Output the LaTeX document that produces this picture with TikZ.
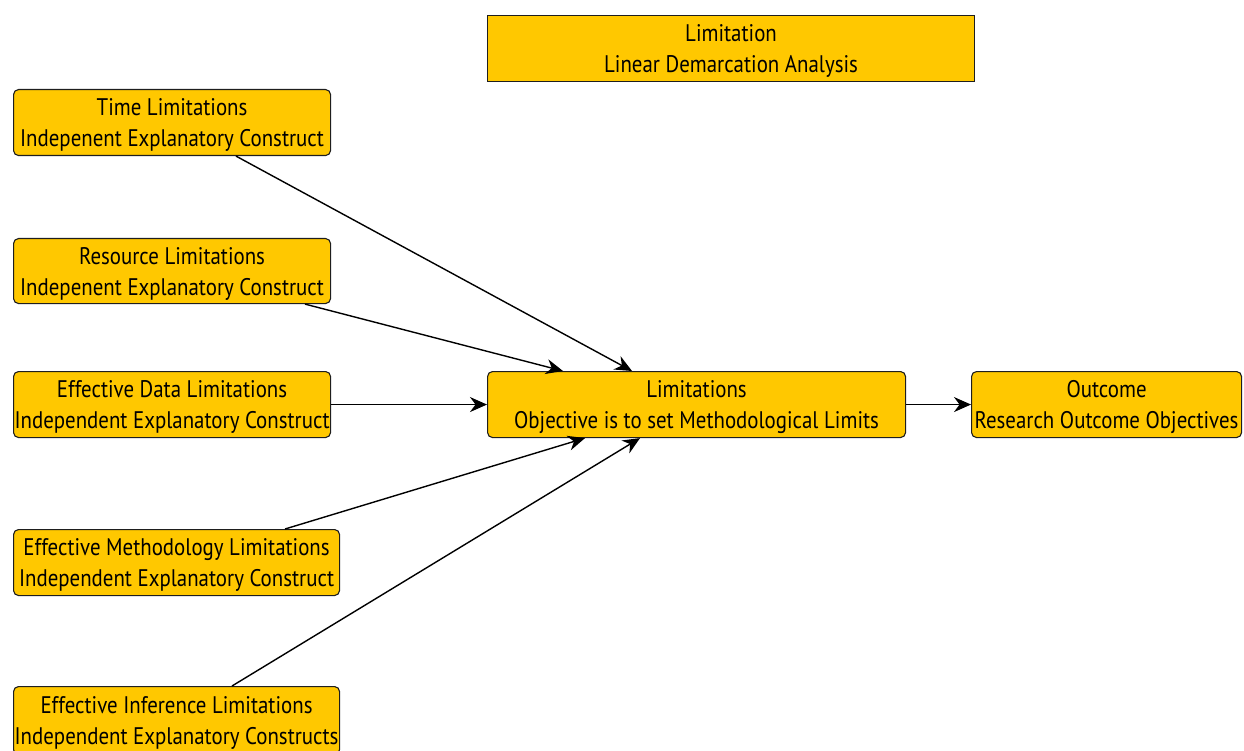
\documentclass[tikz,border=0pt]{standalone}
\usepackage{fontspec}
\setmainfont[FakeStretch=0.87]{PT Sans}
\usetikzlibrary{arrows.meta}
\definecolor{boxfill}{RGB}{255,200,0}
\definecolor{boxline}{RGB}{30,30,30}
\newcommand\myup{\rule{0pt}{22.5pt}}
\tikzset{
  box/.style={draw=boxline, fill=boxfill, line width=1.1pt, rounded corners=5pt, inner sep=0pt,
    anchor=north west, align=center, font=\fontsize{24}{31}\selectfont},
  sqbox/.style={box, rounded corners=0pt},
  conn/.style={-{Stealth[length=17pt,width=15pt]}, line width=1.4pt, black},
}
\begin{document}
\begin{tikzpicture}[x=1pt,y=-1pt]
\useasboundingbox (0,0) rectangle (1244,751);
\node[sqbox, minimum width=487pt, minimum height=66pt] (title) at (487,15) {\myup Limitation\\Linear Demarcation Analysis};
\node[box, minimum width=317pt, minimum height=66pt] (time) at (13,89) {\myup Time Limitations\\Indepenent Explanatory Construct};
\node[box, minimum width=317pt, minimum height=65pt] (res) at (13,238) {\myup Resource Limitations\\Indepenent Explanatory Construct};
\node[box, minimum width=317pt, minimum height=66pt] (data) at (13,371) {\myup Effective Data Limitations\\Independent Explanatory Construct};
\node[box, minimum width=326pt, minimum height=66pt] (meth) at (13,529) {\myup Effective Methodology Limitations\\Independent Explanatory Construct};
\node[box, minimum width=326pt, minimum height=68pt] (inf) at (13,686) {\myup Effective Inference Limitations\\Independent Explanatory Constructs};
\node[box, minimum width=418pt, minimum height=66pt] (lim) at (487,371) {\myup Limitations\\Objective is to set Methodological Limits};
\node[box, minimum width=270pt, minimum height=66pt] (out) at (971,371) {\myup Outcome\\Research Outcome Objectives};
\draw[conn] ([xshift=223pt]time.south west) -- ([xshift=145pt]lim.north west);
\draw[conn] ([xshift=292pt]res.south west) -- ([xshift=76pt]lim.north west);
\draw[conn] (data.east) -- (lim.west);
\draw[conn] ([xshift=272pt]meth.north west) -- ([xshift=98pt]lim.south west);
\draw[conn] ([xshift=219pt]inf.north west) -- ([xshift=153pt]lim.south west);
\draw[conn] (lim.east) -- (out.west);
\end{tikzpicture}
\end{document}
